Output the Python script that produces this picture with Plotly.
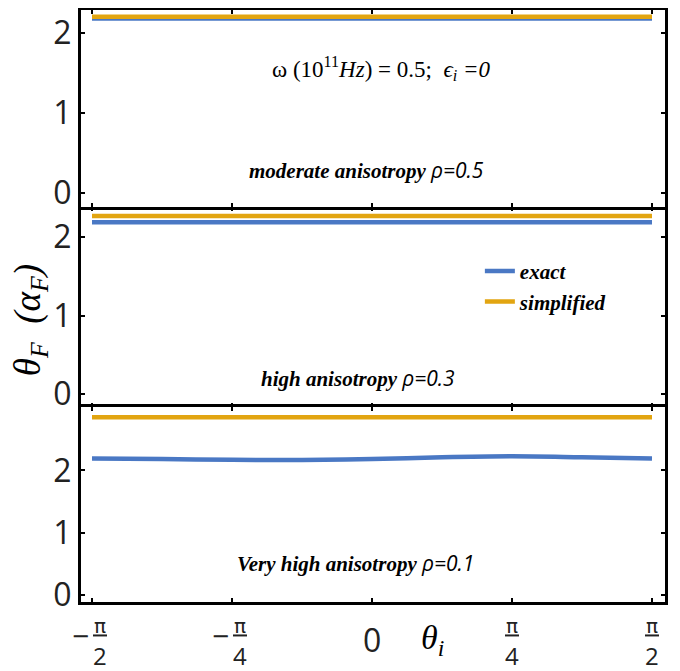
import numpy as np
import plotly.graph_objects as go
from plotly.subplots import make_subplots

PI = np.pi
theta = [-PI/2, -3*PI/8, -PI/4, -PI/8, 0, PI/8, PI/4, 3*PI/8, PI/2]

exact_moderate = [2.185, 2.185, 2.185, 2.185, 2.185, 2.185, 2.185, 2.185, 2.185]
simpl_moderate = [2.205, 2.205, 2.205, 2.205, 2.205, 2.205, 2.205, 2.205, 2.205]
exact_high = [2.19, 2.19, 2.19, 2.19, 2.19, 2.19, 2.19, 2.19, 2.19]
simpl_high = [2.27, 2.27, 2.27, 2.27, 2.27, 2.27, 2.27, 2.27, 2.27]
exact_vhigh = [2.19, 2.18, 2.168, 2.165, 2.18, 2.21, 2.225, 2.21, 2.19]
simpl_vhigh = [2.85, 2.85, 2.85, 2.85, 2.85, 2.85, 2.85, 2.85, 2.85]

panel_labels = ["moderate anisotropy", "high anisotropy", "Very high anisotropy"]
rho_labels = ["ρ=0.5", "ρ=0.3", "ρ=0.1"]
y_ranges = [[-0.175, 2.29], [-0.167, 2.385], [-0.113, 3.016]]
y_ticks = [0, 1, 2]
x_tick_vals = [-PI/2, -PI/4, 0, PI/4, PI/2]

BLUE = "#4A78C4"
ORANGE = "#E2A511"

fig = make_subplots(rows=3, cols=1, shared_xaxes=True, vertical_spacing=0.0,
                    row_heights=[197, 200, 195])

series = [(exact_moderate, simpl_moderate), (exact_high, simpl_high), (exact_vhigh, simpl_vhigh)]
for i, (ex, si) in enumerate(series):
    r = i + 1
    fig.add_trace(go.Scatter(x=theta, y=ex, mode="lines", line=dict(color=BLUE, width=4.5, shape="spline"),
                             name="<b><i>exact</i></b>", showlegend=(r == 2), legendrank=1), row=r, col=1)
    fig.add_trace(go.Scatter(x=theta, y=si, mode="lines", line=dict(color=ORANGE, width=4.5, shape="spline"),
                             name="<b><i>simplified</i></b>", showlegend=(r == 2), legendrank=2), row=r, col=1)

axis_common = dict(linecolor="black", linewidth=3, mirror="ticks",
                   ticks="inside", ticklen=4, tickwidth=2, tickcolor="black",
                   showgrid=False, zeroline=False)

for r in range(1, 4):
    fig.update_xaxes(range=[-1.6325, 1.6437], tickvals=x_tick_vals, showticklabels=False,
                     showline=(r != 2), row=r, col=1, **axis_common)
    fig.update_yaxes(range=y_ranges[r-1], tickvals=y_ticks, ticktext=[str(t) for t in y_ticks],
                     tickfont=dict(family="Open Sans", size=32, color="#222"), showline=True,
                     row=r, col=1, **axis_common)

annotations = []
annotations.append(dict(x=0.05, y=1.56, xref="x", yref="y",
                        text="ω (10<sup>11</sup><i>Hz</i>) = 0.5;  <i>ϵ<sub>i</sub> =0</i>",
                        showarrow=False, font=dict(family="Liberation Serif", size=23, color="black")))
label_pos = [(-0.03, 0.29, "x", "y"), (-0.08, 0.205, "x2", "y2"), (-0.095, 0.516, "x3", "y3")]
for (lx, ly, xr, yr), lab, rho in zip(label_pos, panel_labels, rho_labels):
    annotations.append(dict(x=lx, y=ly, xref=xr, yref=yr,
                            text="<b><i>" + lab + "</i></b> <i><span style='font-family:Open Sans'>" + rho + "</span></i>",
                            showarrow=False, font=dict(family="Liberation Serif", size=21, color="black")))

annotations.append(dict(x=-0.0873, y=0.476, xref="paper", yref="paper", xanchor="center", yanchor="middle",
                        text="<i>θ<sub>F</sub>  (α<sub>F</sub>)</i>", textangle=-90,
                        showarrow=False, font=dict(family="Liberation Serif", size=37, color="black")))
annotations.append(dict(x=PI/4*0.43, y=-0.064, xref="x3", yref="paper",
                        text="<i>θ<sub>i</sub></i>", showarrow=False, yanchor="middle",
                        font=dict(family="Liberation Serif", size=34, color="black")))

shapes = []
frac_ticks = [(-PI/2, "2", True), (-PI/4, "4", True), (PI/4, "4", False), (PI/2, "2", False)]
for xv, den, neg in frac_ticks:
    off = 8 if neg else 0
    annotations.append(dict(x=xv, y=-0.041, xref="x3", yref="paper", text="π", xshift=off,
                            showarrow=False, yanchor="middle",
                            font=dict(family="DejaVu Sans", size=20, color="#222")))
    annotations.append(dict(x=xv, y=-0.090, xref="x3", yref="paper", text=den, xshift=off,
                            showarrow=False, yanchor="middle",
                            font=dict(family="Open Sans", size=24, color="#222")))
    shapes.append(dict(type="line", xref="x3", yref="paper", xsizemode="pixel", xanchor=xv,
                       x0=off-7, x1=off+7, y0=-0.0565, y1=-0.0565,
                       line=dict(color="#222", width=2)))
    if neg:
        annotations.append(dict(x=xv, y=-0.0565, xref="x3", yref="paper", text="−", xshift=-12,
                                showarrow=False, yanchor="middle",
                                font=dict(family="Open Sans", size=30, color="#222")))
annotations.append(dict(x=0, y=-0.064, xref="x3", yref="paper", text="0",
                        showarrow=False, yanchor="middle",
                        font=dict(family="Open Sans", size=32, color="#222")))

fig.update_layout(
    width=672, height=663,
    margin=dict(l=73, r=15, t=2, b=69, autoexpand=False),
    paper_bgcolor="white", plot_bgcolor="white",
    annotations=annotations, shapes=shapes,
    legend=dict(x=0.683, y=0.593, xanchor="left", yanchor="top",
                bgcolor="rgba(0,0,0,0)", itemwidth=30, tracegroupgap=0,
                font=dict(family="Liberation Serif", size=21, color="black"),
                traceorder="normal"),
    showlegend=True,
)

fig.write_html("out.html")
